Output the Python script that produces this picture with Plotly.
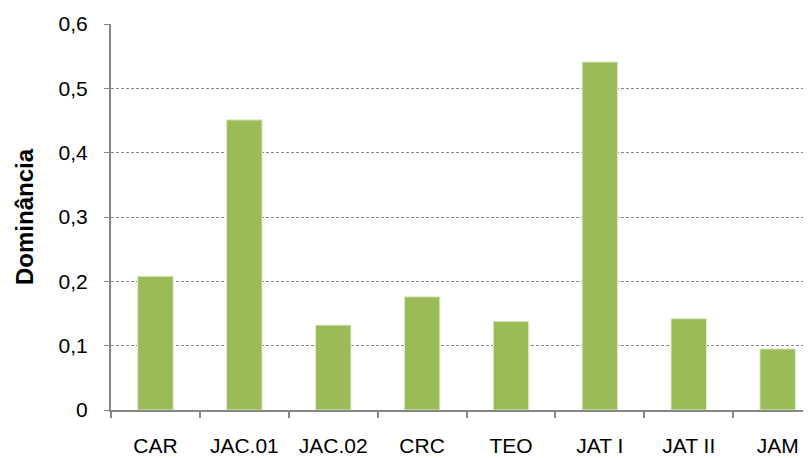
import plotly.graph_objects as go

categories = ["CAR", "JAC.01", "JAC.02", "CRC", "TEO", "JAT I", "JAT II", "JAM"]
dominancia = [0.208, 0.451, 0.132, 0.176, 0.138, 0.541, 0.142, 0.095]
y_ticks = [0, 0.1, 0.2, 0.3, 0.4, 0.5, 0.6]
y_tick_labels = ["0", "0,1", "0,2", "0,3", "0,4", "0,5", "0,6"]

fig = go.Figure()
fig.add_trace(go.Bar(
    x=categories, y=dominancia, width=0.4,
    marker=dict(color="#9BBB59", line=dict(color="#E4EDD2", width=1)),
))

fig.update_layout(
    width=803, height=450,
    margin=dict(l=103, r=0, t=16, b=48),
    paper_bgcolor="white", plot_bgcolor="white",
    showlegend=False,
    font=dict(family="Liberation Sans, Arial, sans-serif", color="black"),
)
fig.update_xaxes(
    type="category", range=[-0.5, 7.375], automargin=False,
    showline=True, linecolor="#868686", linewidth=2,
    ticks="outside", tickson="boundaries", ticklen=6, tickcolor="#868686", tickwidth=2,
    tickfont=dict(size=21, family="Liberation Sans Narrow, Arial Narrow, Liberation Sans, sans-serif"),
    ticklabelstandoff=16,
    showgrid=False,
)
fig.update_yaxes(
    range=[0, 0.6], tickvals=y_ticks, ticktext=y_tick_labels, automargin=False,
    showline=True, linecolor="#868686", linewidth=2,
    ticks="outside", ticklen=5, tickcolor="#868686", tickwidth=1,
    tickfont=dict(size=21), ticklabelstandoff=12,
    showgrid=True, gridcolor="#868686", gridwidth=1, griddash="3px,2px",
    zeroline=False,
    title=dict(text="<b>Dominância</b>", font=dict(size=24), standoff=18),
)

fig.write_html("out.html")
